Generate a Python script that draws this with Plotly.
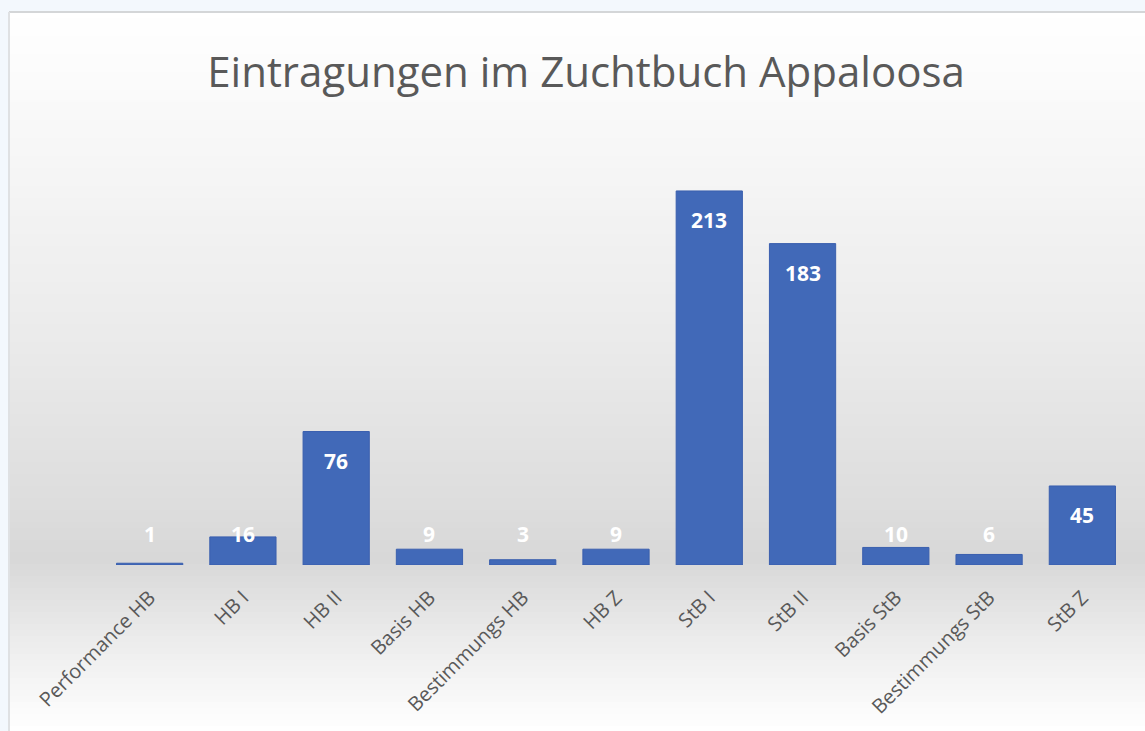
import plotly.graph_objects as go

categories = ["Performance HB", "HB I", "HB II", "Basis HB", "Bestimmungs HB", "HB Z",
              "StB I", "StB II", "Basis StB", "Bestimmungs StB", "StB Z"]
values = [1, 16, 76, 9, 3, 9, 213, 183, 10, 6, 45]
title_text = "Eintragungen im Zuchtbuch Appaloosa"

W, H = 1145, 731
L, R, T, B = 103, 16, 130, 166
pw, ph = W - L - R, H - T - B
YMAX = 247.7

def px_x(px):
    return (px - L) / pw

def px_y(py):
    return (H - B - py) / ph

fig = go.Figure()
fig.add_trace(go.Bar(
    x=categories, y=values,
    marker=dict(color="#4169b8", line=dict(color="#3a5fae", width=1)),
    hoverinfo="x+y",
))

# gradient background built from thin bands
stops = [(12, (255, 255, 255)), (130, (248, 248, 248)), (350, (234, 234, 234)),
         (560, (216, 216, 216)), (640, (236, 236, 236)), (731, (255, 255, 255))]

def col_at(py):
    for (a, ca), (b, cb) in zip(stops, stops[1:]):
        if a <= py <= b:
            t = (py - a) / (b - a)
            return tuple(round(ca[i] + (cb[i] - ca[i]) * t) for i in range(3))
    return stops[-1][1]

shapes = []
step = 6
py = 12
while py < H:
    c = col_at(py + step / 2)
    shapes.append(dict(type="rect", xref="paper", yref="paper", layer="below",
                       x0=px_x(9), x1=px_x(W + 2), y0=px_y(py + step + 0.5), y1=px_y(py),
                       line=dict(width=0), fillcolor="rgb(%d,%d,%d)" % c))
    py += step
# box border
shapes.append(dict(type="line", xref="paper", yref="paper", x0=px_x(9), x1=px_x(W + 2),
                   y0=px_y(12), y1=px_y(12), line=dict(color="#d4d6d8", width=2)))
shapes.append(dict(type="line", xref="paper", yref="paper", x0=px_x(9), x1=px_x(9),
                   y0=px_y(12), y1=px_y(H + 2), line=dict(color="#dfe1e3", width=2)))

annotations = []
for c, v in zip(categories, values):
    if v >= 30:
        annotations.append(dict(x=c, y=v, xref="x", yref="y", text="<b>%d</b>" % v,
                                showarrow=False, yanchor="top", yshift=-13,
                                font=dict(family="Open Sans", size=21, color="white")))
    else:
        annotations.append(dict(x=c, y=0, xref="x", yref="y", text="<b>%d</b>" % v,
                                showarrow=False, yanchor="bottom", yshift=15,
                                font=dict(family="Open Sans", size=21, color="white")))

fig.update_layout(
    width=W, height=H,
    margin=dict(l=L, r=R, t=T, b=B),
    paper_bgcolor="#f3f8fd",
    plot_bgcolor="rgba(0,0,0,0)",
    title=dict(text=title_text, x=px_x(586), xref="paper", xanchor="center",
               y=1 - 72 / H, yanchor="middle",
               font=dict(family="Open Sans", size=42, color="#595959")),
    bargap=0.29,
    showlegend=False,
    shapes=shapes,
    annotations=annotations,
    xaxis=dict(tickangle=-45, tickfont=dict(family="Open Sans", size=20, color="#595959"),
               showgrid=False, zeroline=False, showline=False, ticks="outside",
               ticklen=12, tickcolor="rgba(0,0,0,0)"),
    yaxis=dict(range=[0, YMAX], visible=False, showgrid=False, zeroline=False),
)

fig.write_html("out.html", config={"displayModeBar": False},
               post_script="document.body.style.margin='0px';")
